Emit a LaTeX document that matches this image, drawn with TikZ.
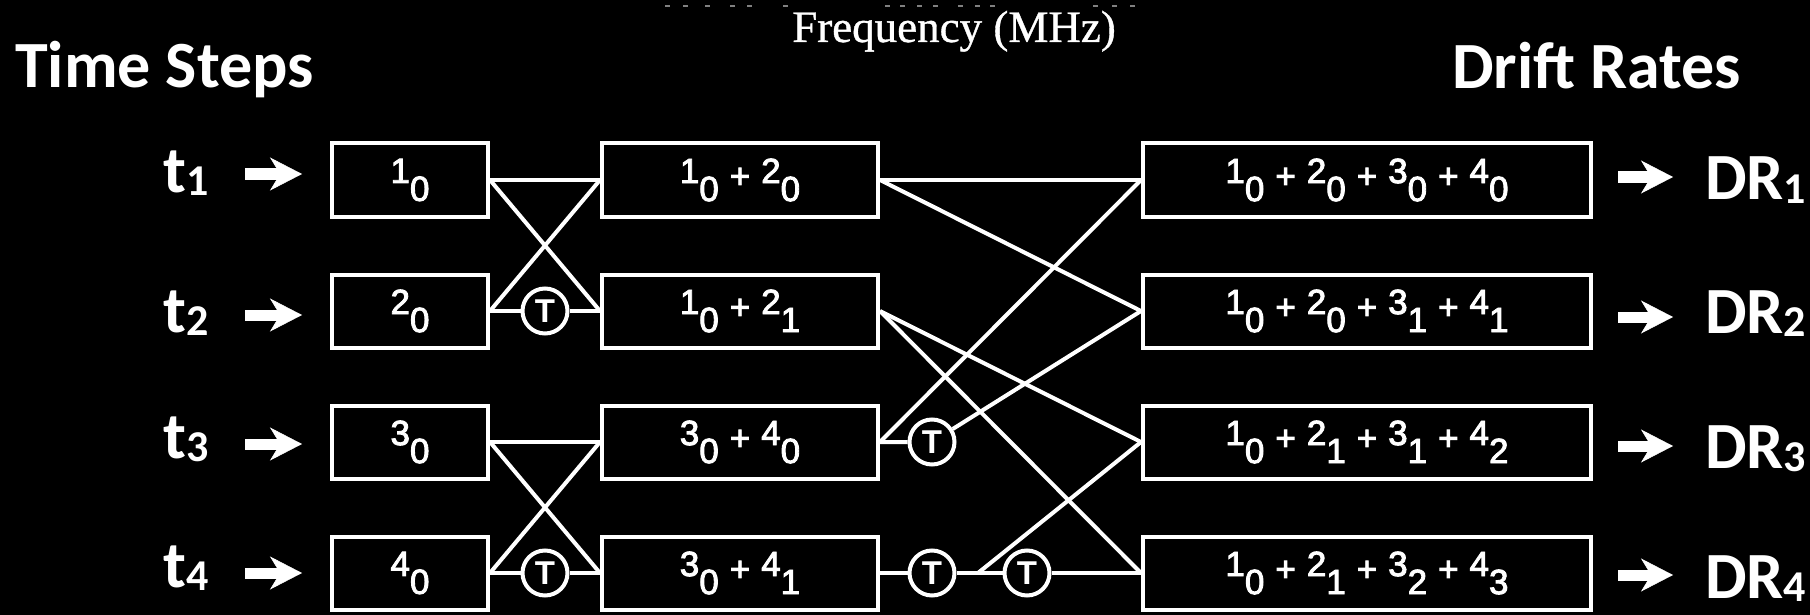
\documentclass[tikz,border=0pt]{standalone}
\usepackage{fontspec}
\setmainfont{Liberation Sans}
\newfontfamily\carl{Carlito}
\newfontfamily\libserif{Liberation Serif}[FakeBold=0.8]
\newfontfamily\boxfont{Liberation Sans}[FakeBold=2.5]
\usetikzlibrary{arrows.meta}
\newcommand\dg[2]{\raisebox{5pt}{#1}\raisebox{-13pt}{#2}}
\newcommand\pl{\hspace{11pt}+\hspace{11pt}}
\newcommand\lsub[1]{{\fontsize{44}{44}\selectfont\raisebox{-3pt}{#1}}}
\tikzset{
  box/.style={draw=white, line width=4pt, fill=black, text=white, minimum height=73pt,
    inner sep=0pt, font=\boxfont\fontsize{35}{40}\selectfont},
  wa/.style={minimum width=156pt},
  wb/.style={minimum width=276pt},
  wc/.style={minimum width=448pt},
  delay/.style={circle, draw=white, line width=4pt, fill=black, minimum size=45pt,
    inner sep=0pt, text=white, font=\fontsize{33}{33}\selectfont\bfseries},
  wire/.style={white, line width=4pt},
  bigarrow/.style={white, line width=11pt,
    -{Stealth[length=32pt, width=33pt, inset=10pt, line width=0.5pt]}},
  lab/.style={text=white, inner sep=0pt, anchor=base west,
    font=\carl\bfseries\fontsize{66}{70}\selectfont},
  title/.style={text=white, inner sep=0pt, anchor=base west,
    font=\libserif\fontsize{45}{50}\selectfont},
  frag/.style={gray, line width=2pt}
}
\begin{document}
\begin{tikzpicture}[x=1pt,y=-1pt]
\fill[black] (0,0) rectangle (1810,615);
\useasboundingbox (0,0) rectangle (1810,615);

% cut-off fragments at the very top
\foreach \xx in {665,683,705,730,747,783,885,900,917,933,958,975,990,1093,1112,1130}
  \draw[frag] (\xx,6) -- ++(5,0);

% titles
\node[title] (freq) at (792,42) {Frequency (MHz)};
\node[lab] (ts) at (15,88) {Time Steps};
\node[lab] (dr) at (1452,89) {Drift Rates};

% column 1
\node[box,wa] (a1) at (410,180) {\dg{1}{0}};
\node[box,wa] (a2) at (410,311) {\dg{2}{0}};
\node[box,wa] (a3) at (410,442) {\dg{3}{0}};
\node[box,wa] (a4) at (410,573) {\dg{4}{0}};
% column 2
\node[box,wb] (b1) at (740,180) {\dg{1}{0}\pl\dg{2}{0}};
\node[box,wb] (b2) at (740,311) {\dg{1}{0}\pl\dg{2}{1}};
\node[box,wb] (b3) at (740,442) {\dg{3}{0}\pl\dg{4}{0}};
\node[box,wb] (b4) at (740,573) {\dg{3}{0}\pl\dg{4}{1}};
% column 3
\node[box,wc] (c1) at (1367,180) {\dg{1}{0}\pl\dg{2}{0}\pl\dg{3}{0}\pl\dg{4}{0}};
\node[box,wc] (c2) at (1367,311) {\dg{1}{0}\pl\dg{2}{0}\pl\dg{3}{1}\pl\dg{4}{1}};
\node[box,wc] (c3) at (1367,442) {\dg{1}{0}\pl\dg{2}{1}\pl\dg{3}{1}\pl\dg{4}{2}};
\node[box,wc] (c4) at (1367,573) {\dg{1}{0}\pl\dg{2}{1}\pl\dg{3}{2}\pl\dg{4}{3}};

% delays
\node[delay] (t1) at (545,311) {T};
\node[delay] (t2) at (545,573) {T};
\node[delay] (ta) at (932,442) {T};
\node[delay] (tb) at (932,573) {T};
\node[delay] (tc) at (1027,573) {T};
\coordinate (j) at (978,573);

% stage 1 wires
\draw[wire] (a1.east) -- (b1.west);
\draw[wire] (a1.east) -- (b2.west);
\draw[wire] (a2.east) -- (b1.west);
\draw[wire] (a2.east) -- (t1) -- (b2.west);
\draw[wire] (a3.east) -- (b3.west);
\draw[wire] (a3.east) -- (b4.west);
\draw[wire] (a4.east) -- (b3.west);
\draw[wire] (a4.east) -- (t2) -- (b4.west);
% stage 2 wires
\draw[wire] (b1.east) -- (c1.west);
\draw[wire] (b1.east) -- (c2.west);
\draw[wire] (b2.east) -- (c3.west);
\draw[wire] (b2.east) -- (c4.west);
\draw[wire] (b3.east) -- (c1.west);
\draw[wire] (b3.east) -- (ta) -- (c2.west);
\draw[wire] (b4.east) -- (tb) -- (j) -- (tc) -- (c4.west);
\draw[wire] (j) -- (c3.west);

% time step labels and arrows
\node[lab] (s1) at (163,192) {t\lsub{1}};
\node[lab] (s2) at (163,332) {t\lsub{2}};
\node[lab] (s3) at (163,458) {t\lsub{3}};
\node[lab] (s4) at (163,587) {t\lsub{4}};
\coordinate (i1s) at (245,174); \coordinate (i1e) at (302,174);
\coordinate (i2s) at (245,315); \coordinate (i2e) at (302,315);
\coordinate (i3s) at (245,444); \coordinate (i3e) at (302,444);
\coordinate (i4s) at (245,573); \coordinate (i4e) at (302,573);
\draw[bigarrow] (i1s) -- (i1e);
\draw[bigarrow] (i2s) -- (i2e);
\draw[bigarrow] (i3s) -- (i3e);
\draw[bigarrow] (i4s) -- (i4e);

% drift rate labels and arrows
\coordinate (o1s) at (1618,177); \coordinate (o1e) at (1673,177);
\coordinate (o2s) at (1618,317); \coordinate (o2e) at (1673,317);
\coordinate (o3s) at (1618,446); \coordinate (o3e) at (1673,446);
\coordinate (o4s) at (1618,575); \coordinate (o4e) at (1673,575);
\draw[bigarrow] (o1s) -- (o1e);
\draw[bigarrow] (o2s) -- (o2e);
\draw[bigarrow] (o3s) -- (o3e);
\draw[bigarrow] (o4s) -- (o4e);
\node[lab] (r1) at (1705,200) {DR\lsub{1}};
\node[lab] (r2) at (1705,333) {DR\lsub{2}};
\node[lab] (r3) at (1705,468) {DR\lsub{3}};
\node[lab] (r4) at (1705,598) {DR\lsub{4}};
\end{tikzpicture}
\end{document}
